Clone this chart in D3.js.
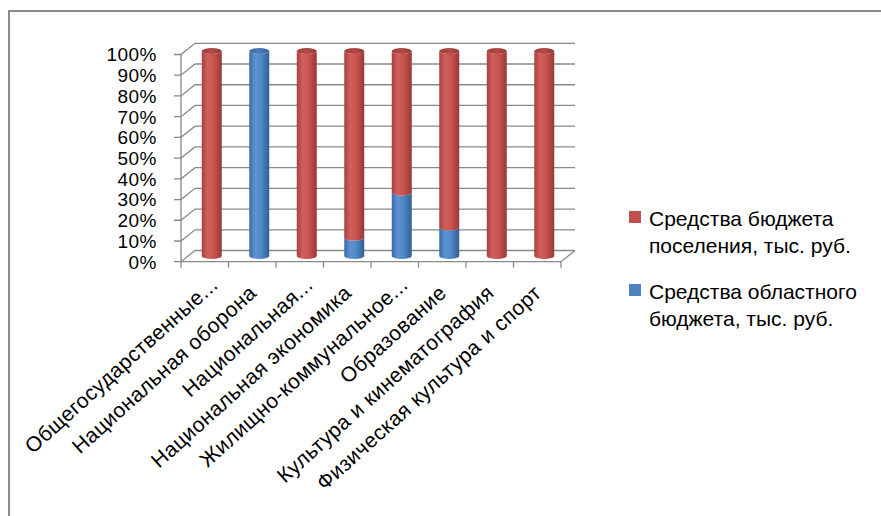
<!DOCTYPE html>
<html><head><meta charset="utf-8">
<script src="https://cdn.jsdelivr.net/npm/d3@7"></script>
<style>body{margin:0;background:#fff}svg{display:block}</style>
</head><body><svg id="c" width="881" height="516"></svg>
<script>
const categories = ["Общегосударственные...", "Национальная оборона", "Национальная...", "Национальная экономика", "Жилищно-коммунальное...", "Образование", "Культура и кинематография", "Физическая культура и спорт"];
const seriesNames = ["Средства бюджета поселения, тыс. руб.", "Средства областного бюджета, тыс. руб."];
const legendLines = [["Средства бюджета", "поселения, тыс. руб."], ["Средства областного", "бюджета, тыс. руб."]];
const poselenieShare = [100, 0, 100, 91, 69, 86, 100, 100];
const oblastShare = [0, 100, 0, 9, 31, 14, 0, 0];
const yTicks = [0, 10, 20, 30, 40, 50, 60, 70, 80, 90, 100];
const yTickLabels = ["0%", "10%", "20%", "30%", "40%", "50%", "60%", "70%", "80%", "90%", "100%"];

const svg = d3.select("#c");
const FONT = "'Liberation Sans', Arial, sans-serif";
const grid = "#898989";

// frame
svg.append("path").attr("d", "M9,516V11H881").attr("fill", "none").attr("stroke", "#8c8c8c").attr("stroke-width", 2);

const x = d3.scaleBand().domain(categories).range([181, 561]).padding(0);
const yF = d3.scaleLinear().domain([0, 100]).range([261.7, 54.5]);
const yBar = d3.scaleLinear().domain([0, 100]).range([256, 51]);
const DX = 14, DY = -11.2;
const backRight = 575;

// defs gradients
const defs = svg.append("defs");
function grad(id, stops) {
  const g = defs.append("linearGradient").attr("id", id).attr("x1", 0).attr("x2", 1).attr("y1", 0).attr("y2", 0);
  stops.forEach(s => g.append("stop").attr("offset", s[0]).attr("stop-color", s[1]));
}
grad("gRed", [[0, "#a7413e"], [0.3, "#d0605c"], [0.6, "#c9534f"], [1, "#973837"]]);
grad("gBlue", [[0, "#3d6ba5"], [0.3, "#5e93d3"], [0.6, "#5087c6"], [1, "#335d94"]]);
grad("gRedTop", [[0, "#9c3c39"], [0.5, "#b34a47"], [1, "#963735"]]);
grad("gBlueTop", [[0, "#3a66a0"], [0.5, "#4a7cbc"], [1, "#345f97"]]);

// gridlines (side + back wall)
const gG = svg.append("g").attr("fill", "none").attr("stroke", grid).attr("stroke-width", 1.3);
yTicks.forEach(t => {
  const yf = yF(t);
  gG.append("path").attr("d", `M${181 - 7},${yf}H181L${181 + DX},${yf + DY}H${backRight}`);
});
gG.append("path").attr("d", `M181,${yF(100)}V${yF(0)}`);

// y labels
svg.append("g").selectAll("text").data(yTicks).join("text")
  .attr("x", 157).attr("y", d => yF(d)).attr("dy", "0.36em")
  .attr("text-anchor", "end").attr("font-family", FONT).attr("font-size", 19).attr("letter-spacing", 0.5).attr("fill", "#000")
  .text((d, i) => yTickLabels[i]);

// cylinders
const r = 10, ry = 3;
const gC = svg.append("g");
categories.forEach((c, i) => {
  const cx = x(c) + x.bandwidth() / 2 + DX / 2;
  const segs = [
    { from: 0, to: oblastShare[i], fill: "url(#gBlue)", top: "url(#gBlueTop)" },
    { from: oblastShare[i], to: oblastShare[i] + poselenieShare[i], fill: "url(#gRed)", top: "url(#gRedTop)" }
  ].filter(s => s.to > s.from);
  segs.forEach((s, k) => {
    const yb = yBar(s.from), yt = yBar(s.to);
    gC.append("path")
      .attr("d", `M${cx - r},${yt}L${cx - r},${yb}A${r},${ry} 0 0 0 ${cx + r},${yb}L${cx + r},${yt}A${r},${ry} 0 0 1 ${cx - r},${yt}Z`)
      .attr("fill", s.fill);
    if (k === segs.length - 1) {
      gC.append("ellipse").attr("cx", cx).attr("cy", yt).attr("rx", r).attr("ry", ry).attr("fill", s.top);
    }
  });
});

// front floor line, right edge, category ticks
const gF = svg.append("g").attr("fill", "none").attr("stroke", grid).attr("stroke-width", 1.3);
gF.append("path").attr("d", `M181,${yF(0)}H561L${561 + DX},${yF(0) + DY}`);
const bounds = categories.map(c => x(c)).concat([561]);
bounds.forEach(b => gF.append("path").attr("d", `M${b},${yF(0)}V${yF(0) + 6}`));

// category labels
svg.append("g").selectAll("text").data(categories).join("text")
  .attr("transform", d => {
    const cx = x(d) + x.bandwidth() / 2;
    const shift = d.endsWith("...") ? 12 : 0;
    return `translate(${cx - 5 + shift * 0.74},${283 - shift * 0.67}) rotate(-42)`;
  })
  .attr("dy", "0.75em")
  .attr("text-anchor", "end").attr("font-family", FONT).attr("font-size", 21).attr("letter-spacing", 0.4).attr("fill", "#000")
  .text(d => d);

// legend
const colors = ["#c0504d", "#4f81bd"];
const lg = svg.append("g");
const legendTop = [211, 284];
seriesNames.forEach((n, i) => {
  lg.append("rect").attr("x", 629).attr("y", legendTop[i]).attr("width", 12).attr("height", 12).attr("fill", colors[i]);
  const t = lg.append("text").attr("font-family", FONT).attr("font-size", 21).attr("fill", "#000");
  legendLines[i].forEach((ln, j) => {
    t.append("tspan").attr("x", 649).attr("y", legendTop[i] + 15 + j * 27).text(ln);
  });
});
</script></body></html>
